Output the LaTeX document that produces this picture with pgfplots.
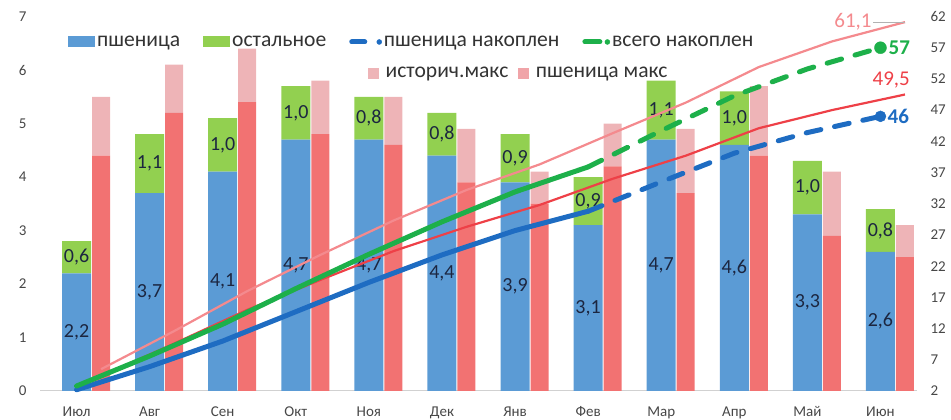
\documentclass[border=0pt]{standalone}
\usepackage{fontspec}
\setmainfont{Carlito}
\usepackage{pgfplots}
\usepackage{pgfplotstable}
\pgfplotsset{compat=1.18}

\definecolor{cBlue}{HTML}{5B9BD5}
\definecolor{cGreen}{HTML}{92D050}
\definecolor{cRed}{HTML}{F27272}
\definecolor{cPink}{HTML}{EEB4B7}
\definecolor{cPinkB}{HTML}{F0A4A8}
\definecolor{cLBlue}{HTML}{1E6CC2}
\definecolor{cLGreen}{HTML}{1DB04A}
\definecolor{cLRed}{HTML}{EE4047}
\definecolor{cLPink}{HTML}{F48A8E}
\definecolor{cTxt}{HTML}{333333}
\definecolor{cLab}{HTML}{1C2640}

\pgfplotstableread{
x wheat other pmax hdiff cw ct cp ch
0  2.2 0.6 4.4 1.1  2.2  2.8  4.4  5.5
1  3.7 1.1 5.2 0.9  5.9  7.6  9.6 11.6
2  4.1 1.0 5.4 1.0 10.0 12.7 15.0 18.0
3  4.7 1.0 4.8 1.0 14.7 18.4 19.8 23.8
4  4.7 0.8 4.6 0.9 19.4 23.9 24.4 29.3
5  4.4 0.8 3.9 1.0 23.8 29.1 28.3 34.2
6  3.9 0.9 3.5 0.6 27.7 33.9 31.8 38.3
7  3.1 0.9 4.2 0.8 30.8 37.9 36.0 43.3
8  4.7 1.1 3.7 1.2 35.5 43.7 39.7 48.2
9  4.6 1.0 4.4 1.3 40.1 49.3 44.1 53.9
10 3.3 1.0 2.9 1.2 43.4 53.6 47.0 58.0
11 2.6 0.8 2.5 0.6 46.0 57.0 49.5 61.1
}\data

\pgfplotsset{
  base/.style={
    scale only axis, width=877pt, height=374.5pt,
    xmin=-0.5, xmax=11.5,
    at={(40pt,29pt)}, anchor=south west,
    clip=false,
    tick style={draw=none},
    /pgf/number format/assume math mode=true,
    /pgf/number format/use comma,
    tick label style={font=\fontsize{15}{18}\selectfont, text=cTxt!90},
  },
  barlbl/.style={
    draw=none, mark=none,
    nodes near coords={\pgfmathprintnumber[fixed,fixed zerofill,precision=1]{\pgfplotspointmeta}},
    point meta=explicit,
    every node near coord/.append style={font=\fontsize{20}{24}\selectfont, text=cLab,
      anchor=center, inner sep=0pt},
  },
}

\begin{document}
\begin{tikzpicture}
\path[use as bounding box] (0,0) rectangle (951pt,420pt);

% wheat + other stacked bars
\begin{axis}[base, ymin=0, ymax=7,
  ybar stacked, bar width=29pt,
  axis x line*=bottom, axis y line*=left,
  x axis line style={draw=black!18, line width=1pt},
  y axis line style={draw=none},
  xtick={0,...,11},
  xticklabels={Июл,Авг,Сен,Окт,Ноя,Дек,Янв,Фев,Мар,Апр,Май,Июн},
  xticklabel style={yshift=-12pt},
  ytick={0,...,7},
  yticklabel style={xshift=-10pt},
  legend style={at={(0.0319,0.932)}, anchor=west, draw=none, fill=none, inner sep=0pt,
     font=\fontsize{21.6}{24}\selectfont, text=cTxt, legend columns=4,
     /tikz/every odd column/.append style={column sep=2pt},
     /tikz/every even column/.append style={column sep=23pt},
     nodes={inner sep=0pt}},
]
\addplot[fill=cBlue, draw=none,
  legend image code/.code={\fill[cBlue] (0pt,-5.5pt) rectangle (27pt,5.5pt);}]
  table[x=x,y=wheat]{\data};
\addlegendentry{пшеница}
\addplot[fill=cGreen, draw=none,
  legend image code/.code={\fill[cGreen] (0pt,-5.5pt) rectangle (27pt,5.5pt);}]
  table[x=x,y=other]{\data};
\addlegendentry{остальное}
\addlegendimage{legend image code/.code={\draw[cLBlue, line width=5pt, line cap=round] (2.5pt,0) -- (15.5pt,0); \fill[cLBlue] (30pt,0) circle (2.5pt);}}
\addlegendentry{пшеница накоплен}
\addlegendimage{legend image code/.code={\draw[cLGreen, line width=5pt, line cap=round] (2.5pt,0) -- (17.5pt,0); \fill[cLGreen] (25pt,0) circle (2.5pt);}}
\addlegendentry{всего накоплен}
\end{axis}

% max bars
\begin{axis}[base, ymin=0, ymax=7, hide axis,
  ybar stacked, bar width=18pt, bar shift=24.5pt,
  legend style={at={(0.374,0.849)}, anchor=west, draw=none, fill=none, inner sep=0pt,
     font=\fontsize{21.6}{24}\selectfont, text=cTxt, legend columns=2,
     /tikz/every odd column/.append style={column sep=7pt},
     /tikz/every even column/.append style={column sep=10pt},
     nodes={inner sep=0pt}},
]
\addplot[fill=cRed, draw=none, forget plot] table[x=x,y=pmax]{\data};
\addplot[fill=cPink, draw=none, forget plot] table[x=x,y=hdiff]{\data};
\addlegendimage{legend image code/.code={\fill[cPink] (0pt,-5pt) rectangle (10pt,5pt);}}
\addlegendentry{историч.макс}
\addlegendimage{legend image code/.code={\fill[cPinkB] (0pt,-5pt) rectangle (10pt,5pt);}}
\addlegendentry{пшеница макс}
\end{axis}

% bar value labels (centred in each segment)
\begin{axis}[base, ymin=0, ymax=7, hide axis]
\addplot[barlbl] table[x=x, y expr=\thisrow{wheat}/2, meta=wheat]{\data};
\addplot[barlbl] table[x=x, y expr=\thisrow{wheat}+\thisrow{other}/2, meta=other]{\data};
\end{axis}

% cumulative lines
\begin{axis}[base, ymin=2, ymax=62,
  axis x line=none, axis y line*=right, y axis line style={draw=none},
  ytick={2,7,...,62}, yticklabel style={xshift=10pt},
]
\addplot[cLPink, line width=2.2pt, mark=none] table[x expr=\thisrow{x}+0.3356, y=ch]{\data};
\addplot[cLRed, line width=2.2pt, mark=none] table[x expr=\thisrow{x}+0.3356, y=cp]{\data};
\addplot[cLBlue, line width=5pt, line cap=round, line join=round, mark=none,
  skip coords between index={8}{12}] table[x=x,y=cw]{\data};
\addplot[cLBlue, line width=5pt, line cap=round, mark=none, dash pattern=on 15pt off 14pt,
  skip coords between index={0}{7}] table[x=x,y=cw]{\data};
\addplot[cLGreen, line width=5pt, line cap=round, line join=round, mark=none,
  skip coords between index={8}{12}] table[x=x,y=ct]{\data};
\addplot[cLGreen, line width=5pt, line cap=round, mark=none, dash pattern=on 15pt off 14pt,
  skip coords between index={0}{7}] table[x=x,y=ct]{\data};
% end markers and labels
\addplot[only marks, mark=*, mark size=6pt, color=cLGreen,
  skip coords between index={0}{11},
  nodes near coords, point meta=y,
  nodes near coords style={anchor=west, inner sep=0pt, xshift=8pt,
    font=\fontsize{21}{24}\selectfont\bfseries, text=cLGreen}]
  table[x=x,y=ct]{\data};
\addplot[only marks, mark=*, mark size=5.5pt, color=cLBlue,
  skip coords between index={0}{11},
  nodes near coords, point meta=y,
  nodes near coords style={anchor=west, inner sep=0pt, xshift=7pt,
    font=\fontsize{21}{24}\selectfont\bfseries, text=cLBlue}]
  table[x=x,y=cw]{\data};
\addplot[draw=none, mark=none,
  skip coords between index={0}{11},
  nodes near coords, point meta=y,
  nodes near coords style={anchor=south east, inner sep=0pt, xshift=5pt, yshift=6pt,
    font=\fontsize{21}{24}\selectfont, text=cLRed}]
  table[x expr=\thisrow{x}+0.3356, y=cp]{\data};
\addplot[draw=none, mark=none,
  skip coords between index={0}{11},
  nodes near coords={},
  nodes near coords style={inner sep=0pt, minimum size=0pt,
    pin={[pin distance=32pt, pin edge={draw=black!30, thin},
      font=\fontsize{21}{24}\selectfont, text=cLPink, inner sep=1pt]180:{61,1}}}]
  table[x expr=\thisrow{x}+0.3356, y=ch]{\data};
\end{axis}
\end{tikzpicture}
\end{document}
